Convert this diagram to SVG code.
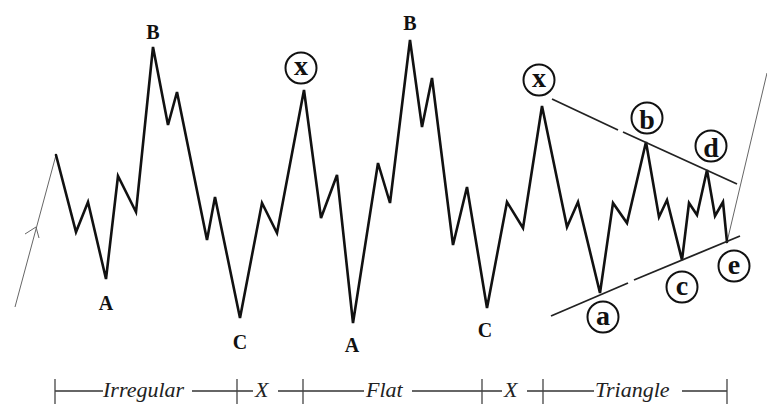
<svg xmlns="http://www.w3.org/2000/svg" width="767" height="406" viewBox="0 0 767 406">
<style>
.wave{fill:none;stroke:#111;stroke-width:2.6;stroke-linejoin:miter;stroke-linecap:round}
.thin{fill:none;stroke:#666;stroke-width:1}
.tri{fill:none;stroke:#222;stroke-width:1.8}
.scale{fill:none;stroke:#333;stroke-width:1.3}
.tick{fill:none;stroke:#444;stroke-width:1.3}
.lbl{font-family:"Liberation Serif","Times New Roman",serif;font-weight:bold;font-size:20px;fill:#111;text-anchor:middle}
.cl{font-family:"Liberation Serif","Times New Roman",serif;font-weight:bold;font-size:28px;fill:#111;text-anchor:middle}
.ring{fill:#fff;stroke:#111;stroke-width:2}
.it{font-family:"Liberation Serif","Times New Roman",serif;font-style:italic;font-size:22px;fill:#222}
</style>
<rect width="767" height="406" fill="#fff"/>
<g id="connectors">
<polyline class="thin" points="15,307 56,155"/>
<polyline class="thin" points="25,234 36,227 39,238"/>
<polyline class="thin" points="727,242 767,73"/>
<polyline class="wave" points="56,155 76,232 88,202 106,279 118,176 136,212 153,47 168,125 177,92 207,240 215,197 240,318 262,203 277,233 304,90 321,218 337,175 353,323 378,163 390,203 410,40 422,127 432,78 453,245 467,187 487,308 507,202 523,228 542,106 567,227 578,202 600,293 613,203 627,223 646,142 659,217 667,200 682,260 689,203 697,215 707,170 715,216 723,202 727,242"/>
<line class="tri" x1="552" y1="99" x2="618" y2="130"/>
<line class="tri" x1="623" y1="132" x2="737" y2="184"/>
<line class="tri" x1="551" y1="316" x2="628" y2="283"/>
<line class="tri" x1="634" y1="280" x2="740" y2="236"/>
</g>
<g id="label-A1"><text class="lbl" x="106" y="310">A</text></g>
<g id="label-B1"><text class="lbl" x="153" y="39">B</text></g>
<g id="label-C1"><text class="lbl" x="240" y="349">C</text></g>
<g id="label-A2"><text class="lbl" x="352" y="352">A</text></g>
<g id="label-B2"><text class="lbl" x="410" y="30">B</text></g>
<g id="label-C2"><text class="lbl" x="485" y="337">C</text></g>
<g id="label-x1"><circle class="ring" cx="301" cy="68" r="15.5"/><text class="cl" x="301" y="75">x</text></g>
<g id="label-x2"><circle class="ring" cx="539" cy="80" r="15.5"/><text class="cl" x="539" y="87">x</text></g>
<g id="label-a"><circle class="ring" cx="603" cy="317" r="15.5"/><text class="cl" x="603" y="325">a</text></g>
<g id="label-b"><circle class="ring" cx="647" cy="118" r="15.5"/><text class="cl" x="647" y="129">b</text></g>
<g id="label-c"><circle class="ring" cx="682" cy="287" r="15.5"/><text class="cl" x="682" y="295">c</text></g>
<g id="label-d"><circle class="ring" cx="711" cy="146" r="15.5"/><text class="cl" x="711" y="157">d</text></g>
<g id="label-e"><circle class="ring" cx="734" cy="266" r="15.5"/><text class="cl" x="734" y="274">e</text></g>
<g id="scale">
<line class="scale" x1="55" y1="391" x2="103" y2="391"/>
<line class="scale" x1="192" y1="391" x2="253" y2="391"/>
<line class="scale" x1="278" y1="391" x2="364" y2="391"/>
<line class="scale" x1="412" y1="391" x2="502" y2="391"/>
<line class="scale" x1="527" y1="391" x2="594" y2="391"/>
<line class="scale" x1="682" y1="391" x2="727" y2="391"/>
<line class="tick" x1="55" y1="379" x2="55" y2="404"/>
<line class="tick" x1="237" y1="379" x2="237" y2="404"/>
<line class="tick" x1="303" y1="379" x2="303" y2="404"/>
<line class="tick" x1="482" y1="379" x2="482" y2="404"/>
<line class="tick" x1="543" y1="379" x2="543" y2="404"/>
<line class="tick" x1="727" y1="379" x2="727" y2="404"/>
<text class="it" x="103" y="397">Irregular</text>
<text class="it" x="255" y="397">X</text>
<text class="it" x="366" y="397">Flat</text>
<text class="it" x="504" y="397">X</text>
<text class="it" x="595" y="397">Triangle</text>
</g>
</svg>
